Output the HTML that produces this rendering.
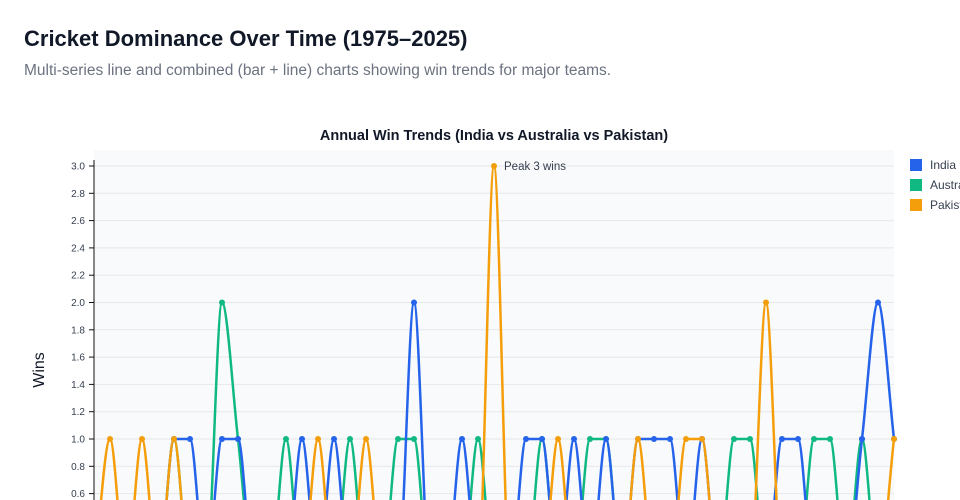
<!DOCTYPE html>
<html><head><meta charset="utf-8"><style>
body{margin:0;width:960px;height:500px;overflow:hidden;background:#fff;font-family:"Liberation Sans",sans-serif}
h1{position:absolute;left:24px;top:26px;margin:0;font-size:22px;font-weight:bold;color:#111827}
p{position:absolute;left:24px;top:62px;margin:0;font-size:15.5px;color:#6b7280}
svg{position:absolute;left:0;top:0}
</style></head><body>
<h1>Cricket Dominance Over Time (1975–2025)</h1>
<p>Multi-series line and combined (bar + line) charts showing win trends for major teams.</p>
<svg id="c" width="960" height="500"></svg>
<script>
const years=[];for(let y=1975;y<=2025;y++)years.push(y);
const indiaWins={1980:1,1981:1,1983:1,1984:1,1988:1,1990:1,1995:2,1998:1,2002:1,2003:1,2005:1,2007:1,2009:1,2010:1,2011:1,2013:1,2018:1,2019:1,2023:1,2024:2,2025:1};
const australiaWins={1980:1,1983:2,1984:1,1987:1,1991:1,1994:1,1995:1,1999:1,2003:1,2006:1,2007:1,2015:1,2016:1,2020:1,2021:1,2023:1};
const pakistanWins={1976:1,1978:1,1980:1,1989:1,1992:1,2000:3,2004:1,2009:1,2012:1,2013:1,2017:2,2025:1};
const yTicks=[0.6,0.8,1.0,1.2,1.4,1.6,1.8,2.0,2.2,2.4,2.6,2.8,3.0];
const NS="http://www.w3.org/2000/svg",svg=document.getElementById('c');
const X=y=>94+16*(y-1975), Y=v=>439-(v-1)*136.5;
function el(t,a,p){const e=document.createElementNS(NS,t);for(const k in a)e.setAttribute(k,a[k]);(p||svg).appendChild(e);return e;}
const bg=el('rect',{x:94,y:150,width:800,height:360,fill:'#f9fafb'});


yTicks.forEach(t=>{
 const l=el('line',{x1:94,x2:894,y1:Y(t),y2:Y(t),stroke:'#e5e7eb','stroke-width':1});
 
 
 const tx=el('text',{x:85,y:Y(t)+3.5,'text-anchor':'end','font-size':10,fill:'#374151'});tx.textContent=t.toFixed(1);
 
 
 el('line',{x1:89,x2:94,y1:Y(t),y2:Y(t),stroke:'#111','stroke-width':1});
});
el('line',{x1:94,x2:94,y1:160,y2:500,stroke:'#111','stroke-width':1});
const yt=el('text',{transform:'translate(44,370) rotate(-90)','text-anchor':'middle','font-size':16,fill:'#111827'});yt.textContent='Wins';


const ct=el('text',{x:494,y:140,'text-anchor':'middle','font-size':14.5,'font-weight':'bold',fill:'#111827'});ct.textContent='Annual Win Trends (India vs Australia vs Pakistan)';


function monoPath(pts){
 const n=pts.length,dx=[],m=[],t=[];
 for(let i=0;i<n-1;i++){dx[i]=pts[i+1][0]-pts[i][0];m[i]=(pts[i+1][1]-pts[i][1])/dx[i];}
 t[0]=m[0];t[n-1]=m[n-2];
 for(let i=1;i<n-1;i++){
  if(m[i-1]*m[i]<=0)t[i]=0;
  else{const a=m[i-1],b=m[i];t[i]=3*a*b/(Math.max(a,b)+2*Math.min(a,b))*(a>0?1:1);
   const s=(Math.abs(a)<Math.abs(b)?a:b);t[i]=(a+b)/2;if(Math.abs(t[i])>3*Math.abs(s))t[i]=3*s;}
 }
 let d='M'+pts[0][0]+','+pts[0][1];
 for(let i=0;i<n-1;i++){const h=dx[i]/3;
  d+=` C${pts[i][0]+h},${pts[i][1]+t[i]*h} ${pts[i+1][0]-h},${pts[i+1][1]-t[i+1]*h} ${pts[i+1][0]},${pts[i+1][1]}`;}
 return d;
}
function series(data,color,name){
 const pts=years.map(y=>[X(y),Y(data[y]||0)]);
 const path=el('path',{d:monoPath(pts),fill:'none',stroke:color,'stroke-width':2.5});
 
 
 pts.forEach(p=>{const c=el('circle',{cx:p[0],cy:p[1],r:3,fill:color});
  
  });
}
series(australiaWins,'#10b981','australia');
series(indiaWins,'#2563eb','india');
series(pakistanWins,'#f59e0b','pakistan');
const pk=el('text',{x:504,y:170,'font-size':11.5,fill:'#374151'});pk.textContent='Peak 3 wins';


[['India','#2563eb'],['Australia','#10b981'],['Pakistan','#f59e0b']].forEach((l,i)=>{
 const r=el('rect',{x:910,y:159+i*20,width:12,height:12,fill:l[1]});
 
 
 const t=el('text',{x:930,y:169+i*20,'font-size':12,fill:'#374151'});t.textContent=l[0];
 
 
});
</script>
</body></html>
